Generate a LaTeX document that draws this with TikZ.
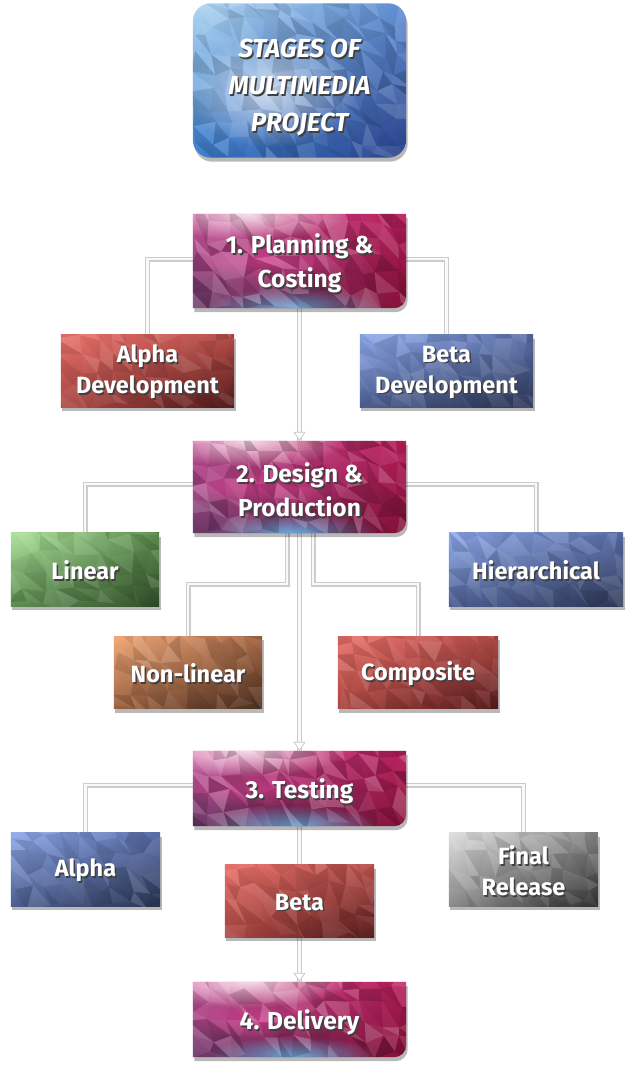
\documentclass[tikz,border=0pt]{standalone}
\usepackage{fontspec}
\setmainfont{Fira Sans}
\usetikzlibrary{shadows,fadings,shadings,arrows.meta,calc}
\pgfdeclarelayer{conn}
\pgfdeclarelayer{boxes}
\pgfsetlayers{conn,boxes,main}
\definecolor{stUL}{HTML}{D0529C}
\definecolor{stUR}{HTML}{B81E5A}
\definecolor{stLL}{HTML}{6A3A6A}
\definecolor{stLR}{HTML}{861038}
\definecolor{stBlue}{HTML}{68B4E4}
\definecolor{stPink}{HTML}{E8449A}
\definecolor{tiUL}{HTML}{B0D6F2}
\definecolor{tiUR}{HTML}{5A8AD0}
\definecolor{tiLL}{HTML}{3A7ED0}
\definecolor{tiLR}{HTML}{2A4088}
\definecolor{rdUL}{HTML}{EC736C}
\definecolor{rdUR}{HTML}{B44C48}
\definecolor{rdLL}{HTML}{A84440}
\definecolor{rdLR}{HTML}{561C1C}
\definecolor{blUL}{HTML}{90ACEE}
\definecolor{blUR}{HTML}{5A6EA8}
\definecolor{blLL}{HTML}{4C5E90}
\definecolor{blLR}{HTML}{2C3654}
\definecolor{grUL}{HTML}{AEE49C}
\definecolor{grUR}{HTML}{5A8A4C}
\definecolor{grLL}{HTML}{5C8C50}
\definecolor{grLR}{HTML}{324E2A}
\definecolor{orUL}{HTML}{F2AA7A}
\definecolor{orUR}{HTML}{A86A48}
\definecolor{orLL}{HTML}{9A6040}
\definecolor{orLR}{HTML}{4A2E1E}
\definecolor{gyUL}{HTML}{E0E0E0}
\definecolor{gyUR}{HTML}{8A8A8A}
\definecolor{gyLL}{HTML}{8C8C8C}
\definecolor{gyLR}{HTML}{303030}
\tikzfading[name=softspot, inner color=transparent!0, outer color=transparent!100]
\def\tdrop{0pt}
\newcommand\sh[1]{\leavevmode\raisebox{-\tdrop}[\height][\depth]{\rlap{\kern1.5pt\raisebox{-1.8pt}{\textcolor{black!75}{#1}}}#1}}
\newcommand\stagepath[1]{(#1.north west) -- (#1.north east) -- ([yshift=12pt]#1.south east) .. controls ([yshift=5.4pt]#1.south east) and ([xshift=-5.4pt]#1.south east) .. ([xshift=-12pt]#1.south east) -- (#1.south west) -- cycle}
\newcommand\rectpath[1]{(#1.north west) rectangle (#1.south east)}
\newcommand\titlepath[1]{[rounded corners=18pt] (#1.north west) rectangle (#1.south east)}
\newcommand\polytex[4]{%
 \begin{scope}
 \clip #4;
 \pgfpointanchor{#1}{south west}\pgfgetlastxy{\txa}{\tya}%
 \pgfpointanchor{#1}{north east}\pgfgetlastxy{\txb}{\tyb}%
 \pgfmathtruncatemacro\tnx{(\txb-\txa)/17+1}%
 \pgfmathtruncatemacro\tny{(\tyb-\tya)/17+1}%
 \pgfmathsetseed{#3}%
 \foreach \i in {0,...,\tnx}{\foreach \j in {0,...,\tny}{%
   \pgfmathsetmacro\tvx{\txa+17*\i+6*rand}%
   \pgfmathsetmacro\tvy{\tya+17*\j+6*rand}%
   \coordinate (tv-\i-\j) at (\tvx pt,\tvy pt);}}%
 \pgfmathtruncatemacro\tnxm{\tnx-1}%
 \pgfmathtruncatemacro\tnym{\tny-1}%
 \foreach \i in {0,...,\tnxm}{\foreach \j in {0,...,\tnym}{%
   \pgfmathtruncatemacro\tIp{\i+1}\pgfmathtruncatemacro\tJp{\j+1}%
   \pgfmathsetmacro\toa{#2*rand}\pgfmathsetmacro\tob{#2*rand}%
   \ifdim\toa pt>0pt\def\tcA{white}\else\def\tcA{black}\fi
   \ifdim\tob pt>0pt\def\tcB{white}\else\def\tcB{black}\fi
   \pgfmathsetmacro\toaa{abs(\toa)}\pgfmathsetmacro\tobb{abs(\tob)}%
   \fill[\tcA, fill opacity=\toaa] (tv-\i-\j) -- (tv-\tIp-\j) -- (tv-\i-\tJp) -- cycle;
   \fill[\tcB, fill opacity=\tobb] (tv-\tIp-\j) -- (tv-\tIp-\tJp) -- (tv-\i-\tJp) -- cycle;
 }}%
 \end{scope}}
\tikzset{
 boxshadow/.style={drop shadow={shadow xshift=1.5pt,shadow yshift=-4pt,opacity=0.28,fill=black}},
 txt/.style={text=white, align=center, inner sep=0pt},
 titlebox/.style={txt, minimum width=213pt, minimum height=154pt, font=\def\tdrop{8pt}\fontsize{26}{37}\selectfont\bfseries\itshape},
 stagebox/.style={txt, minimum width=213pt, font=\def\tdrop{3.5pt}\fontsize{24.5}{34}\selectfont\bfseries},
 childbox/.style={txt, minimum height=72pt, font=\def\tdrop{2pt}\fontsize{23.5}{31}\selectfont\bfseries},
 conn/.style={draw=gray!40, double=white!95!gray, double distance=2.4pt, line width=1.3pt},
 tipline/.style={draw=white!95!gray, line width=2.4pt, -{Triangle[width=12pt,length=9pt,color=gray!45,fill=white,line width=0.7pt]}}
}
\newcommand\stagebg[2]{%
 \shade[boxshadow, upper left=stUL, upper right=stUR, lower left=stLL, lower right=stLR] \stagepath{#1};
 \begin{scope}
 \clip \stagepath{#1};
 \fill[white, path fading=softspot, fill opacity=0.8] ([xshift=55pt]#1.north west) ellipse [x radius=100pt, y radius=26pt];
 \fill[stPink, path fading=softspot, fill opacity=0.6] ([xshift=70pt]#1.west) ellipse [x radius=90pt, y radius=18pt];
 \fill[stBlue, path fading=softspot, fill opacity=0.9] ([xshift=100pt,yshift=1pt]#1.south west) ellipse [x radius=85pt, y radius=20pt];
 \end{scope}
 \polytex{#1}{0.22}{#2}{\stagepath{#1}}}
\newcommand\childbg[3]{%
 \shade[boxshadow, upper left=#2UL, upper right=#2UR, lower left=#2LL, lower right=#2LR] \rectpath{#1};
 \polytex{#1}{0.13}{#3}{\rectpath{#1}}}
\begin{document}
\begin{tikzpicture}[x=1pt,y=-1pt]
\useasboundingbox (0,0) rectangle (634,1073);
% nodes
\node[titlebox] (title) at (299.5,80.5) {\sh{STAGES OF}\\\sh{MULTIMEDIA}\\\sh{PROJECT}};
\node[stagebox, minimum height=94pt] (s1) at (299.5,261) {\sh{1. Planning \&}\\\sh{Costing}};
\node[childbox, minimum width=173pt] (alphadev) at (147.5,371) {\sh{Alpha}\\\sh{Development}};
\node[childbox, minimum width=173pt] (betadev) at (446.5,371) {\sh{Beta}\\\sh{Development}};
\node[stagebox, minimum height=92pt] (s2) at (299.5,487) {\sh{2. Design \&}\\\sh{Production}};
\node[childbox, minimum width=148pt, minimum height=73pt] (linear) at (85,569.5) {\sh{Linear}};
\node[childbox, minimum width=174pt, minimum height=73pt] (hier) at (536,569.5) {\sh{Hierarchical}};
\node[childbox, minimum width=148pt] (nonlin) at (188,672.5) {\sh{Non-linear}};
\node[childbox, minimum width=160pt] (comp) at (418,672.5) {\sh{Composite}};
\node[stagebox, minimum height=75pt] (s3) at (299.5,788.5) {\sh{3. Testing}};
\node[childbox, minimum width=149pt, minimum height=73pt] (alpha) at (85.5,869.5) {\sh{Alpha}};
\node[childbox, minimum width=149pt] (beta) at (299.5,901) {\sh{Beta}};
\node[childbox, minimum width=149pt, minimum height=73pt] (final) at (523.5,869.5) {\sh{Final}\\\sh{Release}};
\node[stagebox, minimum height=75pt] (s4) at (299.5,1019.5) {\sh{4. Delivery}};
% box backgrounds
\begin{pgfonlayer}{boxes}
 \shade[boxshadow, upper left=tiUL, upper right=tiUR, lower left=tiLL, lower right=tiLR] \titlepath{title};
 \begin{scope}
 \clip \titlepath{title};
 \fill[white, path fading=softspot, fill opacity=0.65] ([xshift=-30pt,yshift=-12pt]title.center) ellipse [x radius=85pt, y radius=55pt];
 \end{scope}
 \polytex{title}{0.16}{11}{\titlepath{title}}
 \stagebg{s1}{21}
 \stagebg{s2}{22}
 \stagebg{s3}{23}
 \stagebg{s4}{24}
 \childbg{alphadev}{rd}{31}
 \childbg{betadev}{bl}{32}
 \childbg{linear}{gr}{33}
 \childbg{hier}{bl}{34}
 \childbg{nonlin}{or}{35}
 \childbg{comp}{rd}{36}
 \childbg{alpha}{bl}{37}
 \childbg{beta}{rd}{38}
 \childbg{final}{gy}{39}
\end{pgfonlayer}
% connectors
\begin{pgfonlayer}{conn}
 \draw[conn] ([yshift=2pt]s1.west) -| (alphadev.north);
 \draw[conn] ([yshift=2pt]s1.east) -| (betadev.north);
 \draw[conn] (s1.south) -- (s2.north);
 \draw[tipline] ([yshift=14pt]s2.north) -- (s2.north);
 \draw[conn] ([yshift=3pt]s2.west) -| (linear.north);
 \draw[conn] ([yshift=3pt]s2.east) -| (hier.north);
 \draw[conn] ([xshift=-12.5pt]s2.south) -- ++(0,51) -| (nonlin.north);
 \draw[conn] ([xshift=13.5pt]s2.south) -- ++(0,51) -| (comp.north);
 \draw[conn] (s2.south) -- (s3.north);
 \draw[tipline] ([yshift=14pt]s3.north) -- (s3.north);
 \draw[conn] ([yshift=3.5pt]s3.west) -| (alpha.north);
 \draw[conn] ([yshift=3.5pt]s3.east) -| (final.north);
 \draw[conn] (s3.south) -- (beta.north);
 \draw[conn] (beta.south) -- (s4.north);
 \draw[tipline] ([yshift=14pt]s4.north) -- (s4.north);
\end{pgfonlayer}
\end{tikzpicture}
\end{document}
